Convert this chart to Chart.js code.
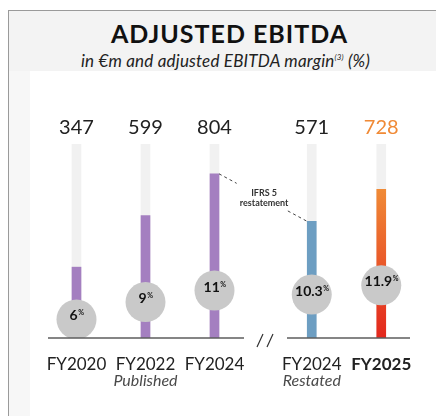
<!DOCTYPE html>
<html>
<head>
<meta charset="utf-8">
<script src="https://cdn.jsdelivr.net/npm/chart.js@4"></script>
<style>
  body { margin: 0; background: #fff; font-family: Lato, sans-serif; }
  .quadro { position: relative; width: 436px; height: 416px; overflow: hidden; }
  .moldura { position: absolute; left: 8px; top: 10px; right: -2px; bottom: -2px; border-left: 1px solid #9a9a9a; border-top: 1px solid #9a9a9a; }
  .faixa { position: absolute; left: 9px; top: 71px; width: 21px; bottom: 0; background: #f7f7f7; }
  .cabecalho { position: absolute; left: 9px; top: 11px; right: 0; height: 60px; background: #f3f3f3; }
  .titulo { position: absolute; left: 0; right: 0; top: 8px; padding-left: 14px; text-align: center; font-size: 25px; line-height: 28px; font-weight: 700; color: #111; letter-spacing: 1px; }
  .subtitulo { position: absolute; left: 0; right: 0; top: 37px; padding-left: 6px; text-align: center; font-size: 17px; line-height: 19px; font-style: italic; color: #222; letter-spacing: 0.2px; }
  .subtitulo sup { font-size: 8px; }
  canvas { position: absolute; left: 0; top: 0; }
</style>
</head>
<body>
<div class="quadro">
  <div class="moldura"></div>
  <div class="faixa"></div>
  <div class="cabecalho">
    <div class="titulo">ADJUSTED EBITDA</div>
    <div class="subtitulo">in €m and adjusted EBITDA margin<sup>(3)</sup> (%)</div>
  </div>
  <canvas id="graficoPublicado" width="436" height="416"></canvas>
  <canvas id="graficoReexpresso" width="436" height="416"></canvas>
</div>
<script>
  const rotulosPublicado = ["FY2020", "FY2022", "FY2024"];
  const ebitdaPublicado = [347, 599, 804];
  const margemPublicado = [6, 9, 11];

  const rotulosReexpresso = ["FY2024", "FY2025"];
  const ebitdaReexpresso = [571, 728];
  const margemReexpresso = [10.3, 11.9];

  const notasGrupo = ["Published", "Restated"];
  const notaIfrs = ["IFRS 5", "restatement"];

  const escalaMax = 950;
  const margemMin = 2.8;
  const margemMax = 36.3;

  const roxo = "#a47fc0";
  const azul = "#6d9ec2";
  const laranja = "#f08a36";
  const vermelho = "#e3271d";
  const trilho = "#f1f1f1";
  const cinzaBola = "#c9c9c9";

  // azul para o restated, degradê laranja->vermelho para FY2025
  function corReexpresso(c) {
    if (c.dataIndex !== 1) return azul;
    const area = c.chart.chartArea;
    if (!area) return laranja;
    const topo = c.chart.scales.y.getPixelForValue(c.raw);
    const g = c.chart.ctx.createLinearGradient(0, topo, 0, area.bottom);
    g.addColorStop(0, laranja);
    g.addColorStop(1, vermelho);
    return g;
  }

  function desenhoRotulos(valores, margens, nota, notaIdx, destaque, recuo) {
    return {
      id: "rotulos",
      afterDatasetsDraw(chart) {
        const ctx = chart.ctx;
        const a = chart.chartArea;
        const barras = chart.getDatasetMeta(0).data;
        const bolas = chart.getDatasetMeta(2).data;
        ctx.save();

        // linha de base
        ctx.strokeStyle = "#5c5c5c";
        ctx.lineWidth = 1.5;
        ctx.beginPath();
        ctx.moveTo(a.left + recuo[0], a.bottom);
        ctx.lineTo(a.right - recuo[1], a.bottom);
        ctx.stroke();

        // valores acima das barras
        ctx.font = "20px Lato";
        ctx.textAlign = "center";
        ctx.textBaseline = "middle";
        barras.forEach((b, i) => {
          ctx.fillStyle = i === destaque ? laranja : "#222";
          ctx.fillText(String(valores[i]), b.x, a.top - 16);
        });

        // margens dentro dos circulos
        ctx.textAlign = "left";
        ctx.textBaseline = "alphabetic";
        ctx.fillStyle = "#111";
        bolas.forEach((p, i) => {
          const txt = String(margens[i]);
          ctx.font = "bold 14px Lato";
          const w1 = ctx.measureText(txt).width;
          ctx.font = "bold 7px Lato";
          const w2 = ctx.measureText("%").width;
          const x0 = p.x - (w1 + w2) / 2;
          ctx.font = "bold 14px Lato";
          ctx.fillText(txt, x0, p.y + 1);
          ctx.font = "bold 7px Lato";
          ctx.fillText("%", x0 + w1 + 0.5, p.y - 4);
        });

        // nota do grupo
        ctx.font = "italic 16px Lato";
        ctx.fillStyle = "#4a4a4a";
        ctx.textAlign = "center";
        ctx.fillText(nota, chart.scales.x.getPixelForValue(notaIdx), a.bottom + 48);
        ctx.restore();
      },
    };
  }

  function criarGrafico(id, rotulos, valores, margens, cores, padding, plugins, destaque) {
    const ctx = document.getElementById(id).getContext("2d");
    return new Chart(ctx, {
      type: "bar",
      data: {
        labels: rotulos,
        datasets: [
          {
            data: valores,
            backgroundColor: cores,
            barThickness: 9,
            grouped: false,
            order: 1,
          },
          {
            data: valores.map(() => escalaMax),
            backgroundColor: trilho,
            barThickness: 9,
            grouped: false,
            order: 2,
          },
          {
            type: "line",
            data: margens,
            yAxisID: "y2",
            showLine: false,
            pointRadius: 20,
            pointHoverRadius: 20,
            pointBackgroundColor: cinzaBola,
            pointBorderWidth: 0,
            order: 0,
          },
        ],
      },
      options: {
        responsive: false,
        animation: false,
        events: [],
        layout: { padding: padding },
        plugins: {
          legend: { display: false },
          tooltip: { enabled: false },
        },
        scales: {
          x: {
            grid: { display: false, drawTicks: false },
            border: { display: false },
            ticks: {
              padding: 16,
              color: "#222",
              font: (c) => ({
                family: "Lato",
                size: 17,
                weight: c.index === destaque ? "bold" : "normal",
              }),
            },
          },
          y: { display: false, min: 0, max: escalaMax },
          y2: { display: false, min: margemMin, max: margemMax },
        },
      },
      plugins: plugins,
    });
  }

  const graficoPublicado = criarGrafico(
    "graficoPublicado",
    rotulosPublicado,
    ebitdaPublicado,
    margemPublicado,
    roxo,
    { left: 42, right: 187, top: 144, bottom: 25.6 },
    [desenhoRotulos(ebitdaPublicado, margemPublicado, notasGrupo[0], 1, -1, [6, 5])],
    -1
  );

  // anotacao IFRS 5 e o "//" entre os dois grupos
  const anotacao = {
    id: "anotacao",
    afterDatasetsDraw(chart) {
      const ctx = chart.ctx;
      const a = chart.chartArea;
      const barraA = graficoPublicado.getDatasetMeta(0).data[2];
      const barraB = chart.getDatasetMeta(0).data[0];
      const ax = barraA.x + barraA.width / 2;
      const ay = barraA.y;
      const bx = barraB.x - barraB.width / 2;
      const by = barraB.y;
      ctx.save();
      ctx.strokeStyle = "#444";
      ctx.lineWidth = 1;
      ctx.setLineDash([3, 3]);
      ctx.beginPath();
      ctx.moveTo(ax, ay);
      ctx.lineTo(ax + 0.2 * (bx - ax), ay + 0.2 * (by - ay));
      ctx.moveTo(ax + 0.78 * (bx - ax), ay + 0.78 * (by - ay));
      ctx.lineTo(bx, by);
      ctx.stroke();
      ctx.setLineDash([]);

      ctx.fillStyle = "#333";
      ctx.font = "bold 9px Lato";
      ctx.textAlign = "center";
      ctx.textBaseline = "middle";
      const mx = (ax + bx) / 2 + 1;
      const my = (ay + by) / 2;
      ctx.fillText(notaIfrs[0], mx, my - 5);
      ctx.fillText(notaIfrs[1], mx, my + 5);

      ctx.strokeStyle = "#333";
      ctx.lineWidth = 1.2;
      ctx.beginPath();
      ctx.moveTo(a.left - 20, a.bottom + 9);
      ctx.lineTo(a.left - 14, a.bottom - 4);
      ctx.moveTo(a.left - 10, a.bottom + 9);
      ctx.lineTo(a.left - 4, a.bottom - 4);
      ctx.stroke();
      ctx.restore();
    },
  };

  criarGrafico(
    "graficoReexpresso",
    rotulosReexpresso,
    ebitdaReexpresso,
    margemReexpresso,
    corReexpresso,
    { left: 277, right: 7, top: 144, bottom: 25.6 },
    [desenhoRotulos(ebitdaReexpresso, margemReexpresso, notasGrupo[1], 0, 1, [10, 6]), anotacao],
    1
  );
</script>
</body>
</html>
